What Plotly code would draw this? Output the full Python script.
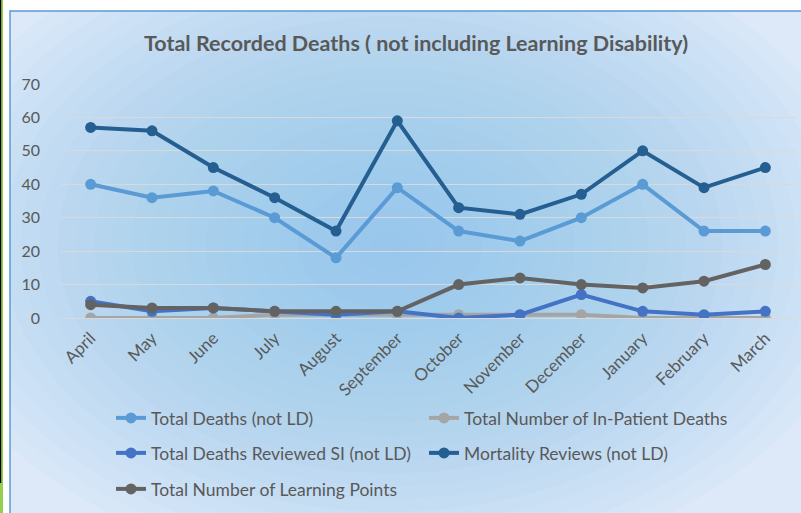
import plotly.graph_objects as go

months = ["April", "May", "June", "July", "August", "September", "October",
          "November", "December", "January", "February", "March"]
total_deaths = [40, 36, 38, 30, 18, 39, 26, 23, 30, 40, 26, 26]
inpatient_deaths = [0, 0, 0, 1, 1, 1, 1, 1, 1, 0, 0, 0]
reviewed_si = [5, 2, 3, 2, 1, 2, 0, 1, 7, 2, 1, 2]
mortality_reviews = [57, 56, 45, 36, 26, 59, 33, 31, 37, 50, 39, 45]
learning_points = [4, 3, 3, 2, 2, 2, 10, 12, 10, 9, 11, 16]

W, H = 801, 513
ML, MR, MT, MB = 60, 5, 84, 195
PW = W - ML - MR
PH = H - MT - MB

def px(x):
    return (x - ML) / PW

def py(y):
    return (H - MB - y) / PH

FONT = "Lato"
GREY = "#595959"

series = [
    ("Total Deaths (not LD)", total_deaths, "#5b9bd5", "legend"),
    ("Total Number of In-Patient Deaths", inpatient_deaths, "#a5a5a5", "legend"),
    ("Total Deaths Reviewed SI (not LD)", reviewed_si, "#4472c4", "legend2"),
    ("Mortality Reviews (not LD)", mortality_reviews, "#255e91", "legend2"),
    ("Total Number of Learning Points", learning_points, "#636363", "legend3"),
]

fig = go.Figure()
for name, vals, col, lg in series:
    fig.add_trace(go.Scatter(
        x=months, y=vals, name=name, mode="lines+markers",
        line=dict(color=col, width=4),
        marker=dict(color=col, size=11),
        legend=lg,
    ))

shapes = []
shapes.append(dict(type="rect", xref="paper", yref="paper", layer="below",
                   x0=px(10), x1=px(W + 5), y0=py(11), y1=py(H + 5),
                   fillcolor="#dde9f9", line=dict(width=0)))
cx, cy = 390, 245
n = 26
for i in range(n):
    f = 1 - i / n
    rx, ry = 480 * f, 330 * f
    shapes.append(dict(type="circle", xref="paper", yref="paper", layer="below",
                       x0=px(cx - rx), x1=px(cx + rx), y0=py(cy - ry), y1=py(cy + ry),
                       fillcolor="rgba(143,188,240,0.05)", line=dict(width=0)))
shapes.append(dict(type="rect", xref="paper", yref="paper", layer="above",
                   x0=px(-5), x1=px(W + 5), y0=py(-5), y1=py(10.5),
                   fillcolor="white", line=dict(width=0)))
shapes.append(dict(type="rect", xref="paper", yref="paper", layer="above",
                   x0=px(-5), x1=px(9.5), y0=py(-5), y1=py(H + 5),
                   fillcolor="white", line=dict(width=0)))
shapes.append(dict(type="rect", xref="paper", yref="paper", layer="above",
                   x0=px(10), x1=px(W + 5), y0=py(11), y1=py(H + 5),
                   fillcolor="rgba(0,0,0,0)", line=dict(color="#5b9bd5", width=1.5)))
shapes.append(dict(type="rect", xref="paper", yref="paper", layer="above",
                   x0=px(0), x1=px(3), y0=py(0), y1=py(H),
                   fillcolor="#92d050", line=dict(width=0)))
shapes.append(dict(type="rect", xref="paper", yref="paper", layer="above",
                   x0=px(0), x1=px(1.2), y0=py(0), y1=py(H - 30),
                   fillcolor="#000000", line=dict(width=0)))

legend_common = dict(orientation="h", xanchor="left", yanchor="middle",
                     bgcolor="rgba(0,0,0,0)", entrywidth=268,
                     font=dict(family=FONT, size=17.5, color=GREY))

fig.update_layout(
    width=W, height=H,
    margin=dict(l=ML, r=MR, t=MT, b=MB),
    paper_bgcolor="white",
    plot_bgcolor="rgba(0,0,0,0)",
    font=dict(family=FONT, color=GREY),
    title=dict(text="<b>Total Recorded Deaths ( not including Learning Disability)</b>",
               xref="container", yref="container", x=416 / W, y=1 - 43 / H,
               xanchor="center", yanchor="middle",
               font=dict(family=FONT, size=21.5, color=GREY)),
    xaxis=dict(type="category", range=[-0.5, 11.5], tickangle=-45,
               showgrid=False, showline=False, zeroline=False,
               ticklabelstandoff=6,
               tickfont=dict(family=FONT, size=17, color=GREY)),
    yaxis=dict(range=[0, 70], dtick=10, showgrid=True, gridcolor="#d9d9d9",
               gridwidth=1, zeroline=True, zerolinecolor="#d9d9d9", zerolinewidth=1,
               showline=False, ticklabelstandoff=19,
               tickfont=dict(family=FONT, size=16, color=GREY)),
    legend=dict(x=px(111), y=py(418), **legend_common),
    legend2=dict(x=px(111), y=py(453), **legend_common),
    legend3=dict(x=px(111), y=py(489), **legend_common),
    shapes=shapes,
    showlegend=True,
)

fig.write_html("out.html", config={"displayModeBar": False},
               post_script="document.body.style.margin='0';document.body.style.overflow='hidden';")
